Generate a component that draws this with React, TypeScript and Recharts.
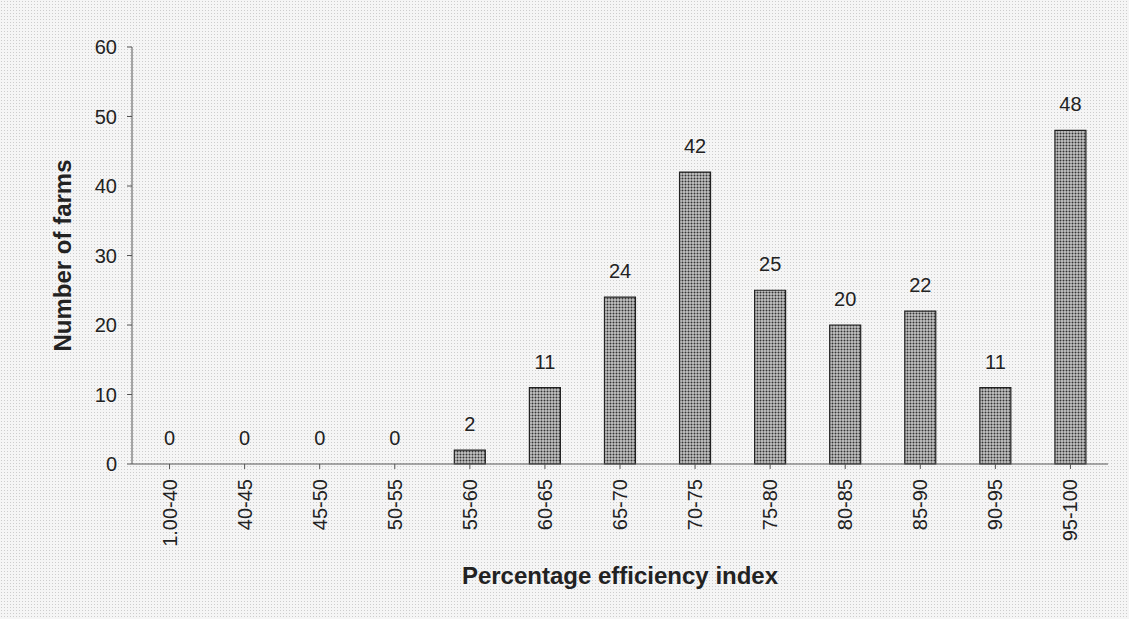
import { Bar, ComposedChart, LabelList, Line, XAxis, YAxis } from "recharts";

const ranges = ["1.00-40", "40-45", "45-50", "50-55", "55-60", "60-65", "65-70", "70-75", "75-80", "80-85", "85-90", "90-95", "95-100"];
const farms = [0, 0, 0, 0, 2, 11, 24, 42, 25, 20, 22, 11, 48];
const yTicks = [0, 10, 20, 30, 40, 50, 60];

const data = ranges.map((range, i) => ({ range, farms: farms[i] }));

const font = "'Liberation Sans', Arial, sans-serif";

function RangeTick({ x, y, payload }: any) {
  return (
    <text
      x={0}
      y={0}
      transform={`translate(${x + 7},${y + 8}) rotate(-90)`}
      textAnchor="end"
      fill="#222"
      fontSize={20}
      fontFamily={font}
    >
      {payload.value}
    </text>
  );
}

export default function App() {
  return (
    <div
      style={{
        position: "fixed",
        left: 0,
        top: 0,
        width: 1129,
        height: 619,
        backgroundColor: "#f5f5f5",
        backgroundImage: "radial-gradient(#cdcdcd 0.7px, transparent 0.8px)",
        backgroundSize: "3px 3px",
      }}
    >
      <ComposedChart
        width={1129}
        height={619}
        data={data}
        margin={{ top: 47, right: 21, left: 60, bottom: 35 }}
        barSize={31}
      >
        <defs>
          <pattern id="dots" width="3" height="3" patternUnits="userSpaceOnUse">
            <rect width="3" height="3" fill="#c4c4c4" />
            <circle cx="1.5" cy="1.5" r="1" fill="#333" />
          </pattern>
        </defs>
        <XAxis
          dataKey="range"
          height={120}
          interval={0}
          stroke="#555"
          tickSize={5}
          tick={<RangeTick />}
          label={{
            value: "Percentage efficiency index",
            position: "insideBottom",
            offset: 0,
            fill: "#222",
            fontSize: 24,
            fontWeight: "bold",
            fontFamily: font,
          }}
        />
        <YAxis
          width={72}
          domain={[0, 60]}
          ticks={yTicks}
          stroke="#555"
          tickSize={5}
          tickMargin={10}
          tick={{ fill: "#222", fontSize: 20, fontFamily: font }}
          label={{
            value: "Number of farms",
            angle: -90,
            position: "insideLeft",
            offset: 2,
            fill: "#222",
            fontSize: 24,
            fontWeight: "bold",
            fontFamily: font,
            style: { textAnchor: "middle" },
          }}
        />
        <Bar dataKey="farms" fill="url(#dots)" stroke="#222" strokeWidth={1.2} isAnimationActive={false} />
        <Line
          dataKey="farms"
          stroke="none"
          dot={false}
          activeDot={false}
          isAnimationActive={false}
        >
          <LabelList
            dataKey="farms"
            position="top"
            offset={19}
            fill="#222"
            fontSize={20}
            fontFamily={font}
          />
        </Line>
      </ComposedChart>
    </div>
  );
}
